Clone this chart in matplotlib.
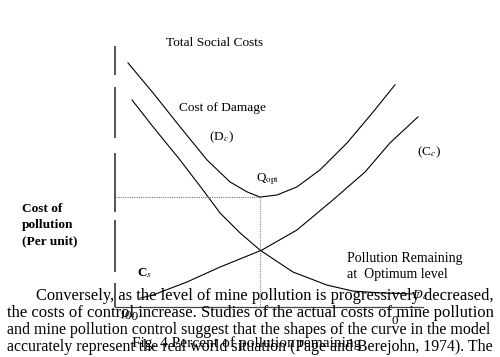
import numpy as np
import matplotlib
matplotlib.use('Agg')
import matplotlib.pyplot as plt

plt.rcParams['mathtext.fontset'] = 'stix'
SERIF = 'Liberation Serif'

# ---- data (x = percent of pollution remaining, y = cost per unit) ----
tsc_x = [98.9, 89.6, 79.6, 69.6, 61.1, 54.8, 50.0, 43.7, 36.3, 27.8, 17.8, 8.1, 0.0]
tsc_y = [93.5, 82.0, 69.0, 56.3, 47.9, 44.1, 42.1, 42.9, 46.0, 52.5, 62.8, 74.7, 85.1]

dmg_x = [97.4, 89.6, 79.6, 71.1, 64.8, 57.4, 50.0, 37.8, 25.2, 15.6, 5.6, -6.3]
dmg_y = [79.3, 69.0, 56.3, 44.8, 36.0, 28.4, 21.8, 13.4, 8.4, 6.1, 5.4, 5.0]

ctl_x = [94.4, 89.6, 77.0, 64.8, 49.3, 36.3, 23.0, 11.1, 1.9, -8.5]
ctl_y = [3.4, 4.6, 9.6, 15.3, 21.8, 29.5, 41.0, 51.7, 62.8, 72.8]

q_opt = (50.0, 42.1)
tick_labels = ['100', '0']

# y axis drawn in pieces (scan has breaks)
yaxis_pieces = [(100.0, 88.9), (84.3, 64.8), (59.0, 36.4), (33.3, 13.4), (9.2, 0.0)]

paragraph = [
    "Conversely, as the level of mine pollution is progressively decreased,",
    "the costs of control increase. Studies of the actual costs of mine pollution",
    "and mine pollution control suggest that the shapes of the curve in the model",
    "accurately represent the real world situation (Page and Berejohn, 1974). The",
]

W, H = 500, 357
fig = plt.figure(figsize=(W / 100, H / 100), dpi=100)
ax = fig.add_axes([0, 0, 1, 1])
ax.set_xlim(146.3, -38.9)
ax.set_ylim(-19.16, 117.6)
ax.axis('off')


def ftxt(px, py, s, **kw):
    # place text by pixel position of the reference picture
    kw.setdefault('family', SERIF)
    return fig.text(px / W, 1 - py / H, s, **kw)


# axes
for y0, y1 in yaxis_pieces:
    ax.plot([103.7, 103.7], [y0, y1], color='#555555', lw=1.4, solid_capstyle='butt')
ax.plot([103.7, -10.4], [0, 0], color='#444444', lw=0.9)

# curves
ax.plot(tsc_x, tsc_y, color='black', lw=0.8)
ax.plot(dmg_x, dmg_y, color='black', lw=0.8)
ax.plot(ctl_x, ctl_y, color='black', lw=0.8)

# optimum guides
ax.plot([103.3, q_opt[0]], [q_opt[1], q_opt[1]], color='#777777', lw=0.8, ls=(0, (1, 1)))
ax.plot([q_opt[0], q_opt[0]], [q_opt[1], 0], color='#888888', lw=0.8, ls=(0, (1, 1)))

# diagram labels
ftxt(166, 46, 'Total Social Costs', fontsize=9.6, va='baseline')
ftxt(179, 111, 'Cost of Damage', fontsize=9.6, va='baseline')
ftxt(209, 140, r'(D$_c$)', fontsize=9.6, va='baseline')
ftxt(417, 155, r'(C$_c$)', fontsize=9.6, va='baseline')
ftxt(256, 181, r'Q$_{\rm opt}$', fontsize=9.4, va='baseline')
ftxt(137, 276, r'C$_s$', fontsize=9.4, va='baseline', weight='bold')
ftxt(347, 262, 'Pollution Remaining', fontsize=10, va='baseline')
ftxt(347, 278, 'at  Optimum level', fontsize=10, va='baseline')
ftxt(22, 212, 'Cost of', fontsize=9.6, va='baseline', weight='bold')
ftxt(22, 228, 'pollution', fontsize=9.6, va='baseline', weight='bold')
ftxt(22, 244, '(Per unit)', fontsize=9.6, va='baseline', weight='bold')
ftxt(412, 298, r'D$_c$', fontsize=9.6, va='baseline', style='italic')
ftxt(118, 321, tick_labels[0], fontsize=9.4, va='baseline', rotation=-8)
ftxt(391, 324, tick_labels[1], fontsize=9.4, va='baseline')

# overlapping body text, stretched to the column width
renderer = fig.canvas.get_renderer()
starts = [36, 7, 7, 7]
baselines = [300, 317, 334, 351]
for line, x0, yb in zip(paragraph, starts, baselines):
    t = ftxt(x0, yb, line, fontsize=10, va='baseline')
    w = t.get_window_extent(renderer).width
    t.set_fontsize(10 * (492 - x0) / w)

t = ftxt(132, 347, 'Fig. 4 Percent of pollution remaining', fontsize=10, va='baseline')
w = t.get_window_extent(renderer).width
t.set_fontsize(10 * (360 - 132) / w)

fig.savefig('out.png', dpi=100)
